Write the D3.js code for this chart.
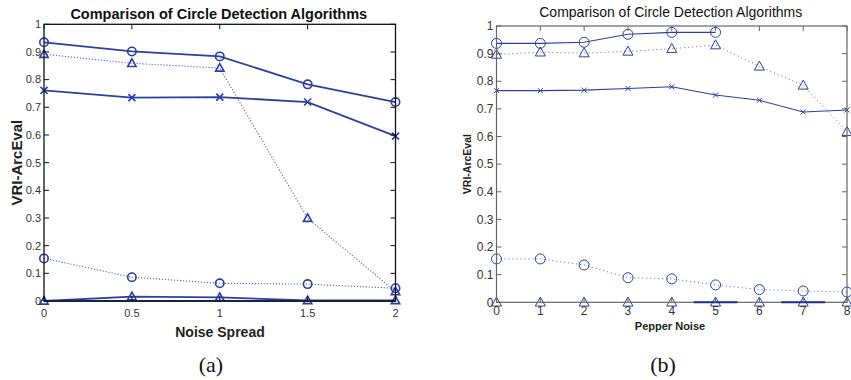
<!DOCTYPE html>
<meta charset="utf-8">
<style>
  body { margin: 0; background: #fff; }
  svg { display: block; }
</style>
<script src="https://d3js.org/d3.v7.min.js"></script>
<body>
<svg width="851" height="380"></svg>
<script>
// panel (a): noise spread
var noiseSpread = [0, 0.5, 1, 1.5, 2];
var aSolidCircle = [0.935, 0.902, 0.884, 0.783, 0.719];
var aDotTriangle = [0.892, 0.859, 0.842, 0.299, 0.034];
var aSolidCross = [0.761, 0.735, 0.737, 0.719, 0.596];
var aDotCircle = [0.154, 0.086, 0.064, 0.061, 0.046];
var aSolidTriangle = [0.0, 0.016, 0.013, 0.002, 0.002];
var aZero = [0, 0, 0, 0, 0];

// panel (b): pepper noise
var pepperNoise = [0, 1, 2, 3, 4, 5, 6, 7, 8];
var bSolidCircle = [0.937, 0.937, 0.941, 0.970, 0.977, 0.977];
var bDotTriangle = [0.897, 0.905, 0.902, 0.908, 0.918, 0.931, 0.854, 0.785, 0.617];
var bSolidCross = [0.766, 0.766, 0.768, 0.774, 0.780, 0.750, 0.731, 0.689, 0.696];
var bDotCircle = [0.157, 0.157, 0.135, 0.089, 0.085, 0.063, 0.046, 0.041, 0.037];
var bSolidTriangle = [0, 0, 0, 0, 0, 0, 0, 0, 0];
var bZeroSegments = [[4.5, 5.5], [6.5, 7.5]];

var yTicks = [0, 0.1, 0.2, 0.3, 0.4, 0.5, 0.6, 0.7, 0.8, 0.9, 1];
var title = "Comparison of Circle Detection Algorithms";
var blue = "#2d3f9f";

var svg = d3.select("svg");

function drawPanel(p) {
    var x = d3.scaleLinear().domain(p.xDomain).range([p.left, p.right]);
    var y = d3.scaleLinear().domain([0, 1]).range([p.bottom, p.top]);
    var g = svg.append("g");

    // series
    var line = d3.line()
        .x(function(d) { return x(d[0]); })
        .y(function(d) { return y(d[1]); });

    p.series.forEach(function(s) {
        var pts = s.values.map(function(v, i) { return [p.xValues[i], v]; });
        if (!s.noLine) {
            g.append("path")
                .attr("d", line(pts))
                .attr("fill", "none")
                .attr("stroke", blue)
                .attr("stroke-opacity", s.dotted ? 0.8 : 1)
                .attr("stroke-width", s.dotted ? p.dotWidth : p.lineWidth)
                .attr("stroke-dasharray", s.dotted ? p.dash : null);
        }
        if (!s.marker) return;
        var m = g.selectAll(null).data(pts).enter();
        var r = p.markerR;
        if (s.marker === "circle") {
            m.append("circle")
                .attr("cx", function(d) { return x(d[0]); })
                .attr("cy", function(d) { return y(d[1]); })
                .attr("r", r)
                .attr("fill", "none").attr("stroke", blue).attr("stroke-width", p.markerWidth);
        } else if (s.marker === "triangle") {
            m.append("path")
                .attr("d", function(d) {
                    var cx = x(d[0]), cy = y(d[1]);
                    return "M" + cx + "," + (cy - r * 1.05) + "L" + (cx + r) + "," + (cy + r * 0.75) +
                        "L" + (cx - r) + "," + (cy + r * 0.75) + "Z";
                })
                .attr("fill", "none").attr("stroke", blue).attr("stroke-width", p.markerWidth);
        } else if (s.marker === "cross") {
            var c = p.crossR;
            m.append("path")
                .attr("d", function(d) {
                    var cx = x(d[0]), cy = y(d[1]);
                    return "M" + (cx - c) + "," + (cy - c) + "L" + (cx + c) + "," + (cy + c) +
                        "M" + (cx - c) + "," + (cy + c) + "L" + (cx + c) + "," + (cy - c);
                })
                .attr("fill", "none").attr("stroke", blue).attr("stroke-width", p.markerWidth);
        }
    });

    // box
    g.append("rect")
        .attr("x", p.left).attr("y", p.top)
        .attr("width", p.right - p.left).attr("height", p.bottom - p.top)
        .attr("fill", "none").attr("stroke", p.axisColor).attr("stroke-width", p.axisWidth);

    if (p.segments) {
        g.selectAll(null).data(p.segments).enter().append("line")
            .attr("x1", function(d) { return x(d[0]); })
            .attr("x2", function(d) { return x(d[1]); })
            .attr("y1", y(0)).attr("y2", y(0))
            .attr("stroke", "#1f2f8a").attr("stroke-width", 2);
    }

    // inside ticks on all four sides
    var tl = 5;
    g.selectAll(".xt").data(p.xTicks).enter().append("path")
        .attr("d", function(d) {
            return "M" + x(d) + "," + p.bottom + "v" + (-tl) + "M" + x(d) + "," + p.top + "v" + tl;
        })
        .attr("stroke", p.axisColor).attr("stroke-width", 1);
    g.selectAll(".yt").data(yTicks).enter().append("path")
        .attr("d", function(d) {
            return "M" + p.left + "," + y(d) + "h" + tl + "M" + p.right + "," + y(d) + "h" + (-tl);
        })
        .attr("stroke", p.axisColor).attr("stroke-width", 1);

    // tick labels
    g.selectAll(".xl").data(p.xTicks).enter().append("text")
        .attr("x", function(d) { return x(d); })
        .attr("y", p.bottom + p.xLabelDy)
        .attr("text-anchor", "middle")
        .attr("font-family", "Liberation Sans, Arial, sans-serif")
        .attr("font-size", p.tickSize)
        .attr("fill", p.tickColor)
        .text(function(d) { return d; });
    g.selectAll(".yl").data(yTicks).enter().append("text")
        .attr("x", p.left - 3)
        .attr("y", function(d) { return y(d); })
        .attr("dy", "0.35em")
        .attr("text-anchor", "end")
        .attr("font-family", "Liberation Sans, Arial, sans-serif")
        .attr("font-size", p.tickSize)
        .attr("fill", p.tickColor)
        .text(function(d) { return d; });

    // title and axis labels
    g.append("text")
        .attr("x", (p.left + p.right) / 2 + p.titleDx).attr("y", p.titleY)
        .attr("text-anchor", "middle")
        .attr("font-family", "Liberation Sans, Arial, sans-serif")
        .attr("font-weight", p.titleWeight)
        .attr("font-size", p.titleSize)
        .attr("fill", "#111")
        .text(title);
    g.append("text")
        .attr("x", p.xLabelX).attr("y", p.xLabelY)
        .attr("text-anchor", "middle")
        .attr("font-family", "Liberation Sans, Arial, sans-serif")
        .attr("font-weight", "bold")
        .attr("font-size", p.labelSize)
        .attr("fill", "#222")
        .text(p.xLabel);
    g.append("text")
        .attr("transform", "translate(" + p.yLabelX + "," + (p.top + p.bottom) / 2 + ") rotate(-90)")
        .attr("text-anchor", "middle")
        .attr("font-family", "Liberation Sans, Arial, sans-serif")
        .attr("font-weight", "bold")
        .attr("font-size", p.yLabelSize)
        .attr("fill", "#222")
        .text("VRI-ArcEval");
    g.append("text")
        .attr("x", p.capX).attr("y", 372)
        .attr("text-anchor", "middle")
        .attr("font-family", "Liberation Serif, DejaVu Serif, serif")
        .attr("font-size", 22)
        .attr("fill", "#111")
        .text(p.caption);
}

drawPanel({
    xDomain: [0, 2], xTicks: noiseSpread, xValues: noiseSpread,
    left: 44, right: 395.5, top: 24.3, bottom: 301,
    axisColor: "#111", axisWidth: 1.3, tickColor: "#333", tickSize: 11, xLabelDy: 16,
    lineWidth: 1.8, dotWidth: 1.1, dash: "1.2,1.8", markerR: 4.2, crossR: 3.5, markerWidth: 1.6,
    series: [
        { values: aZero, dotted: false },
        { values: aSolidCircle, marker: "circle" },
        { values: aDotTriangle, marker: "triangle", dotted: true },
        { values: aSolidCross, marker: "cross" },
        { values: aDotCircle, marker: "circle", dotted: true },
        { values: aSolidTriangle, marker: "triangle" }
    ],
    titleY: 19, titleDx: -1, titleWeight: "bold", titleSize: 14.5,
    xLabel: "Noise Spread", xLabelX: 220, xLabelY: 337, labelSize: 14,
    yLabelX: 22, yLabelSize: 15, caption: "(a)", capX: 211
});

drawPanel({
    xDomain: [0, 8], xTicks: pepperNoise, xValues: pepperNoise,
    left: 496.5, right: 847, top: 26, bottom: 302.3,
    axisColor: "#666", axisWidth: 1.2, tickColor: "#333", tickSize: 12, xLabelDy: 13,
    lineWidth: 1.1, dotWidth: 1, dash: "1,3", markerR: 5, crossR: 2.5, markerWidth: 1,
    series: [
        { values: bSolidCircle, marker: "circle" },
        { values: bDotTriangle, marker: "triangle", dotted: true },
        { values: bSolidCross, marker: "cross" },
        { values: bDotCircle, marker: "circle", dotted: true },
        { values: bSolidTriangle, marker: "triangle", noLine: true }
    ],
    segments: bZeroSegments,
    titleY: 17, titleDx: -1, titleWeight: "normal", titleSize: 14,
    xLabel: "Pepper Noise", xLabelX: 670, xLabelY: 330, labelSize: 11,
    yLabelX: 471, yLabelSize: 10.5, caption: "(b)", capX: 663
});
</script>
</body>
